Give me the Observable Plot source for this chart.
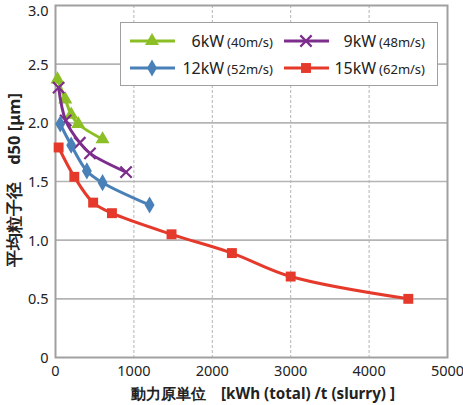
<!DOCTYPE html>
<html><head><meta charset="utf-8">
<script src="https://cdn.jsdelivr.net/npm/d3@7"></script>
<script src="https://cdn.jsdelivr.net/npm/@observablehq/plot@0.6"></script>
<style>
body{margin:0;background:#fff;}
#wrap{position:relative;width:463px;height:405px;font-family:"Noto Sans",sans-serif;}
#legend{position:absolute;left:120px;top:22px;width:318px;height:64px;background:#fff;border:1.5px solid #a0a0a0;box-sizing:border-box;}
#ylab{position:absolute;left:14px;top:180px;transform:translate(-50%,-50%) rotate(-90deg);white-space:nowrap;font-weight:bold;font-size:16.5px;color:#222;}
#xlab{position:absolute;left:263px;top:394px;transform:translate(-50%,-50%);white-space:nowrap;font-weight:bold;font-size:15.2px;color:#222;}
</style></head>
<body><div id="wrap"></div>
<script>
const series = ["6kW", "9kW", "12kW", "15kW"];
const speeds = ["(40m/s)", "(48m/s)", "(52m/s)", "(62m/s)"];
const colors = ["#8cbf26", "#7d2e8c", "#4a80b8", "#e53a2b"];
const symbols = ["triangle", "times", "diamond", "square"];
const x6 = [25, 125, 200, 290, 600];
const y6 = [2.37, 2.20, 2.07, 1.99, 1.86];
const x9 = [40, 130, 310, 440, 900];
const y9 = [2.30, 2.02, 1.83, 1.74, 1.58];
const x12 = [60, 200, 400, 600, 1200];
const y12 = [1.99, 1.81, 1.59, 1.49, 1.30];
const x15 = [40, 240, 480, 720, 1480, 2250, 3000, 4500];
const y15 = [1.79, 1.54, 1.32, 1.23, 1.05, 0.89, 0.69, 0.50];
const xTicks = [0, 1000, 2000, 3000, 4000, 5000];
const yTicks = [0, 0.5, 1.0, 1.5, 2.0, 2.5];
const yTopTick = [3.0];
const xLabel = "動力原単位　[kWh (total) /t (slurry) ]";
const yLabel = "平均粒子径　d50 [μm]";

const xs = [x6, x9, x12, x15], ys = [y6, y9, y12, y15];
const data = [];
series.forEach((s, i) => xs[i].forEach((x, j) => data.push({s, x, y: ys[i][j]})));
const rs = {triangle: 5.2, times: 5.2, diamond: 5.2, square: 5.6};
const yFmt = d => d === 0 ? "0" : d.toFixed(1);

const marks = [
  Plot.gridY([0.5, 1.0, 1.5, 2.0, 2.5], {stroke: "#b4b4b4", strokeOpacity: 1, strokeWidth: 1.6}),
  Plot.gridX([1000, 2000, 3000, 4000], {stroke: "#b4b4b4", strokeOpacity: 1, strokeWidth: 1, strokeDasharray: "3,2"}),
  Plot.frame({stroke: "#a0a0a0", strokeWidth: 2}),
  Plot.axisX(xTicks, {tickSize: 0, tickPadding: 8, fontSize: 14.5, fill: "#222", label: null, tickFormat: d => String(d)}),
  Plot.axisY(yTicks, {tickSize: 0, tickPadding: 7, fontSize: 14.5, fill: "#222", label: null, dy: 1, tickFormat: yFmt}),
  Plot.axisY(yTopTick, {tickSize: 0, tickPadding: 7, fontSize: 14.5, fill: "#222", label: null, dy: 6, tickFormat: yFmt})
];
series.forEach((s, i) => {
  const d = data.filter(e => e.s === s);
  marks.push(Plot.line(d, {x: "x", y: "y", stroke: colors[i], strokeWidth: 3, curve: "catmull-rom"}));
  const filled = symbols[i] !== "times";
  marks.push(Plot.dot(d, {x: "x", y: "y", symbol: symbols[i], r: rs[symbols[i]],
    fill: filled ? colors[i] : "none", stroke: filled ? "none" : colors[i], strokeWidth: 2.2}));
});

const chart = Plot.plot({
  width: 463, height: 405,
  marginLeft: 55, marginRight: 16, marginTop: 5, marginBottom: 48,
  style: {fontFamily: "'Noto Sans', sans-serif", background: "#fff"},
  x: {domain: [0, 5000], label: null},
  y: {domain: [0, 3], label: null},
  marks
});
const wrap = document.getElementById("wrap");
wrap.appendChild(chart);

const yl = document.createElement("div"); yl.id = "ylab"; yl.textContent = yLabel; wrap.appendChild(yl);
const xl = document.createElement("div"); xl.id = "xlab"; xl.textContent = xLabel; wrap.appendChild(xl);

// legend
const lg = document.createElement("div"); lg.id = "legend"; wrap.appendChild(lg);
const svg = d3.select(lg).append("svg").attr("width", 318).attr("height", 64).style("position","absolute").style("left","-1.5px").style("top","-1.5px");
const symMap = {triangle: d3.symbolTriangle, times: d3.symbolTimes, diamond: d3.symbolDiamond, square: d3.symbolSquare};
series.forEach((s, i) => {
  const cx = (i === 0 || i === 2) ? 10 : 164;
  const cy = i < 2 ? 19 : 46;
  const g = svg.append("g");
  g.append("line").attr("x1", cx).attr("x2", cx + 45).attr("y1", cy).attr("y2", cy).attr("stroke", colors[i]).attr("stroke-width", 3);
  const filled = symbols[i] !== "times";
  const r = rs[symbols[i]];
  g.append("path").attr("transform", `translate(${cx + 22},${cy})`)
    .attr("d", d3.symbol(symMap[symbols[i]], r * r * Math.PI)())
    .attr("fill", filled ? colors[i] : "none").attr("stroke", filled ? "none" : colors[i]).attr("stroke-width", 2.2);
  const tx = (i === 0 || i === 2) ? 153 : 305;
  const t = g.append("text").attr("x", tx).attr("y", cy + 5.5).attr("text-anchor", "end")
    .style("font-family", "'Noto Sans', sans-serif").attr("fill", "#222");
  t.append("tspan").attr("font-size", "16px").text(s);
  t.append("tspan").attr("font-size", "13px").attr("dx", 3).text(speeds[i]);
});
</script></body></html>
